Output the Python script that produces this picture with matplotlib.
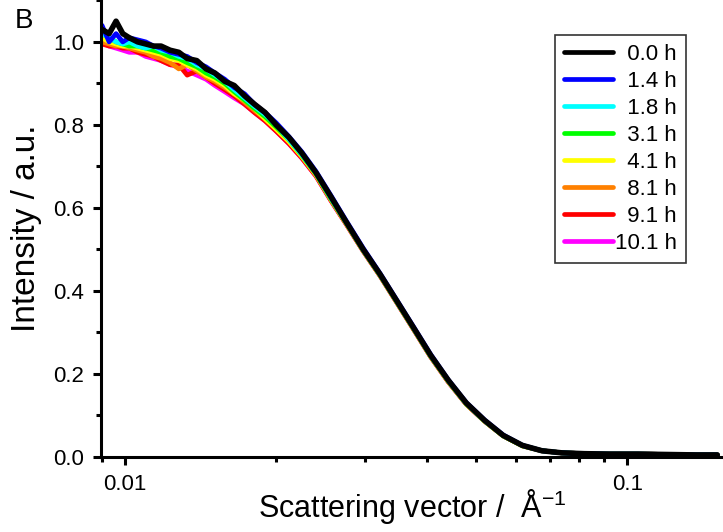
import numpy as np
import matplotlib
matplotlib.use("Agg")
import matplotlib.pyplot as plt
from matplotlib.ticker import FixedLocator, LogLocator, NullFormatter, MultipleLocator, FormatStrFormatter

plt.rcParams['font.family'] = ['Liberation Sans', 'DejaVu Sans']
plt.rcParams['mathtext.default'] = 'regular'

# scattering vector grid (1/A)
q = [0.0090, 0.0093, 0.0096, 0.0099, 0.0102, 0.0106, 0.0110, 0.0114, 0.0118, 0.0123,
     0.0128, 0.0133, 0.0139, 0.0145, 0.0151, 0.0158, 0.0165, 0.0173, 0.0181, 0.0190,
     0.0200, 0.0212, 0.0225, 0.0240, 0.0257, 0.0276, 0.0298, 0.0322, 0.0348, 0.0376,
     0.0406, 0.0440, 0.0478, 0.0520, 0.0566, 0.0618, 0.0676, 0.0740, 0.0820, 0.0920,
     0.105, 0.120, 0.137, 0.151]

labels = ["0.0 h", "1.4 h", "1.8 h", "3.1 h", "4.1 h", "8.1 h", "9.1 h", "10.1 h"]
colors = ["#000000", "#0000ff", "#00ffff", "#00ff00", "#ffff00", "#ff8000", "#ff0000", "#ff00ff"]

I_00 = [1.03, 1.02, 1.05, 1.02, 1.01, 1.00, 0.995, 0.99, 0.99, 0.98,
        0.975, 0.96, 0.955, 0.935, 0.925, 0.905, 0.895, 0.87, 0.85, 0.83,
        0.80, 0.77, 0.732, 0.685, 0.627, 0.565, 0.50, 0.44, 0.375, 0.31,
        0.245, 0.185, 0.13, 0.088, 0.052, 0.028, 0.015, 0.010, 0.008, 0.007,
        0.007, 0.006, 0.005, 0.005]
I_14 = [1.04, 1.00, 1.02, 1.00, 1.01, 1.005, 1.00, 0.99, 0.985, 0.975,
        0.97, 0.965, 0.95, 0.94, 0.925, 0.91, 0.89, 0.875, 0.85, 0.83,
        0.805, 0.772, 0.735, 0.688, 0.630, 0.568, 0.503, 0.442, 0.377, 0.312,
        0.247, 0.186, 0.131, 0.089, 0.053, 0.028, 0.015, 0.010, 0.008, 0.007,
        0.007, 0.006, 0.005, 0.005]
I_18 = [1.02, 1.01, 1.00, 0.995, 1.00, 0.99, 0.985, 0.99, 0.98, 0.975,
        0.965, 0.96, 0.945, 0.935, 0.92, 0.905, 0.885, 0.865, 0.845, 0.825,
        0.80, 0.765, 0.728, 0.684, 0.624, 0.564, 0.499, 0.439, 0.374, 0.309,
        0.244, 0.184, 0.129, 0.087, 0.052, 0.028, 0.015, 0.010, 0.008, 0.007,
        0.007, 0.006, 0.005, 0.005]
I_31 = [1.02, 1.01, 1.00, 0.995, 0.99, 0.99, 0.985, 0.98, 0.975, 0.965,
        0.96, 0.95, 0.94, 0.925, 0.915, 0.90, 0.88, 0.86, 0.84, 0.82,
        0.795, 0.765, 0.727, 0.682, 0.622, 0.563, 0.498, 0.438, 0.373, 0.308,
        0.243, 0.183, 0.128, 0.087, 0.051, 0.027, 0.015, 0.010, 0.008, 0.007,
        0.007, 0.006, 0.005, 0.005]
I_41 = [1.01, 1.00, 0.995, 0.99, 0.99, 0.985, 0.98, 0.975, 0.97, 0.96,
        0.955, 0.945, 0.935, 0.92, 0.91, 0.895, 0.875, 0.86, 0.84, 0.815,
        0.79, 0.76, 0.724, 0.680, 0.621, 0.562, 0.497, 0.437, 0.372, 0.307,
        0.242, 0.182, 0.128, 0.086, 0.051, 0.027, 0.015, 0.010, 0.008, 0.007,
        0.007, 0.006, 0.005, 0.005]
I_81 = [1.00, 0.995, 0.99, 0.99, 0.985, 0.98, 0.975, 0.965, 0.96, 0.95,
        0.935, 0.945, 0.93, 0.915, 0.905, 0.89, 0.875, 0.855, 0.835, 0.815,
        0.79, 0.76, 0.724, 0.680, 0.62, 0.561, 0.497, 0.437, 0.372, 0.307,
        0.242, 0.182, 0.127, 0.086, 0.051, 0.027, 0.015, 0.010, 0.008, 0.007,
        0.007, 0.006, 0.005, 0.005]
I_91 = [0.995, 0.99, 0.99, 0.985, 0.985, 0.975, 0.97, 0.965, 0.955, 0.945,
        0.945, 0.92, 0.93, 0.915, 0.90, 0.885, 0.87, 0.85, 0.83, 0.81,
        0.785, 0.755, 0.72, 0.677, 0.618, 0.56, 0.496, 0.436, 0.371, 0.306,
        0.241, 0.181, 0.127, 0.086, 0.051, 0.027, 0.015, 0.010, 0.008, 0.007,
        0.007, 0.006, 0.005, 0.005]
I_101 = [1.00, 0.99, 0.985, 0.98, 0.975, 0.975, 0.965, 0.96, 0.955, 0.945,
         0.94, 0.93, 0.92, 0.91, 0.895, 0.88, 0.865, 0.85, 0.83, 0.81,
         0.785, 0.755, 0.72, 0.677, 0.618, 0.56, 0.496, 0.436, 0.371, 0.306,
         0.241, 0.181, 0.127, 0.086, 0.051, 0.027, 0.015, 0.010, 0.008, 0.007,
         0.007, 0.006, 0.005, 0.005]

series = [I_00, I_14, I_18, I_31, I_41, I_81, I_91, I_101]

fig = plt.figure(figsize=(7.23, 5.32), dpi=100)
ax = fig.add_axes([0.1397, 0.141, 0.8603, 0.859])

# draw later series first so the 0.0 h curve sits on top
handles = [None] * len(series)
for i in reversed(range(len(series))):
    lw = 4.0 if i == 0 else 3.4
    h, = ax.plot(q, series[i], color=colors[i], lw=lw, label=labels[i],
                 solid_capstyle='round', solid_joinstyle='round')
    handles[i] = h

ax.set_xscale('log')
ax.set_xlim(0.00896, 0.155)
ax.set_ylim(0, 1.101)

ax.xaxis.set_major_locator(FixedLocator([0.01, 0.1]))
ax.set_xticklabels(["0.01", "0.1"])
ax.xaxis.set_minor_locator(LogLocator(base=10, subs=np.arange(2, 10)))
ax.xaxis.set_minor_formatter(NullFormatter())
ax.yaxis.set_major_locator(MultipleLocator(0.2))
ax.yaxis.set_minor_locator(MultipleLocator(0.1))
ax.yaxis.set_major_formatter(FormatStrFormatter('%.1f'))

for s in ['top', 'right']:
    ax.spines[s].set_visible(False)
for s in ['left', 'bottom']:
    ax.spines[s].set_linewidth(2.2)

ax.tick_params(which='major', direction='out', length=6, width=2.2, labelsize=16, pad=6)
ax.tick_params(which='minor', direction='out', length=3.5, width=2.2)

ax.set_xlabel("Scattering vector /  Å$^{-1}$", fontsize=22)
ax.xaxis.label.set_va('baseline')
ax.xaxis.set_label_coords(0.5, -0.131)
ax.set_ylabel("Intensity / a.u.", fontsize=24, labelpad=8)

leg_labels = ["  0.0 h", "  1.4 h", "  1.8 h", "  3.1 h", "  4.1 h", "  8.1 h", "  9.1 h", "10.1 h"]
leg = ax.legend(handles, leg_labels, loc='upper left', bbox_to_anchor=(0.730, 0.923),
                fontsize=16, frameon=True, fancybox=False, edgecolor='black',
                handlelength=2.2, handletextpad=0.1, labelspacing=0.27,
                borderpad=0.4, borderaxespad=0)
leg.get_frame().set_linewidth(1.2)
for line in leg.get_lines():
    line.set_linewidth(3.4)
    line.set_solid_capstyle('round')

fig.text(0.02, 0.985, "B", fontsize=20, ha='left', va='top')

fig.savefig("out.png", dpi=100)
